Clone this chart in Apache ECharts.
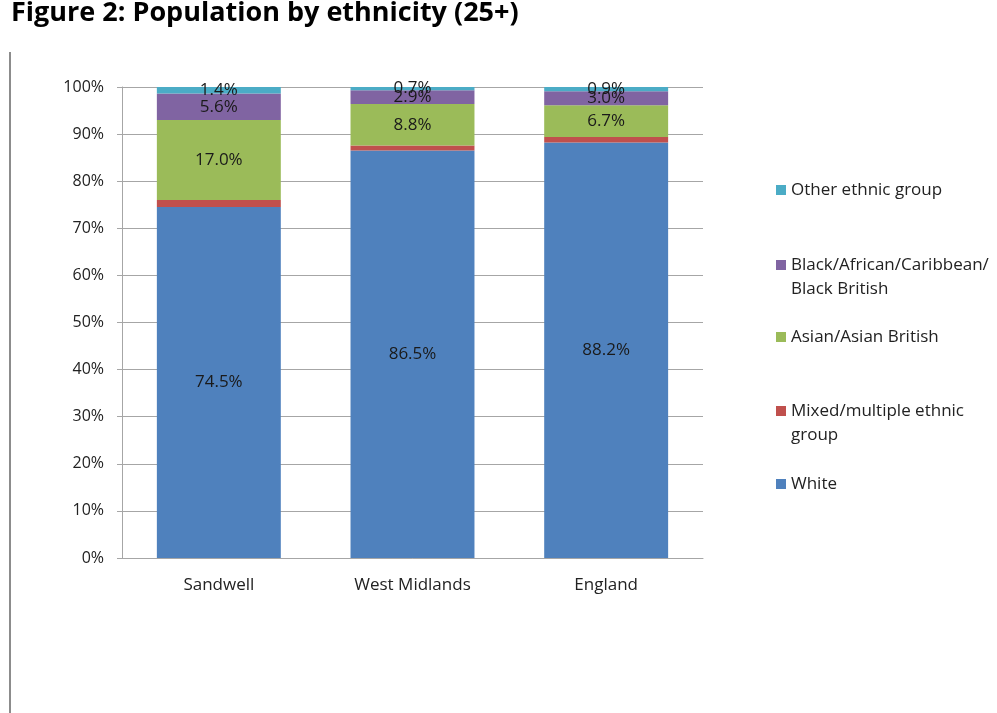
<!DOCTYPE html>
<html><head><meta charset="utf-8">
<script src="https://cdn.jsdelivr.net/npm/echarts@6/dist/echarts.min.js"></script>
<style>html,body{margin:0;padding:0;background:#fff}#c{width:997px;height:713px}</style>
</head><body><div id="c"></div>
<script>
const categories = ['Sandwell', 'West Midlands', 'England'];
const white = [74.5, 86.5, 88.2];
const mixed = [1.5, 1.1, 1.2];
const asian = [17.0, 8.8, 6.7];
const black = [5.6, 2.9, 3.0];
const other = [1.4, 0.7, 0.9];
const yTicks = [0, 10, 20, 30, 40, 50, 60, 70, 80, 90, 100];

const FONT = 'Open Sans';
const chart = echarts.init(document.getElementById('c'), null, {renderer: 'canvas'});

function mk(name, data, color, showLabel) {
  return {
    name, type: 'bar', stack: 'all', data, barWidth: '64%',
    itemStyle: {color},
    label: {show: showLabel, position: 'inside', formatter: p => p.value.toFixed(1) + '%',
      color: '#1a1a1a', fontFamily: FONT, fontSize: 17},
    emphasis: {disabled: true}
  };
}
const legendTops = [178, 229, 325, 375, 472];
const names = ['Other ethnic group', 'Black/African/Caribbean/Black British', 'Asian/Asian British', 'Mixed/multiple ethnic group', 'White'];
const legends = names.map((n, i) => ({
  data: [n], left: 776, top: legendTops[i], orient: 'vertical', padding: 0,
  itemWidth: 10, itemHeight: 10, itemGap: 0, icon: 'rect',
  selectedMode: false,
  formatter: nm => nm === 'Black/African/Caribbean/Black British' ? '\nBlack/African/Caribbean/\nBlack British'
    : nm === 'Mixed/multiple ethnic group' ? '\nMixed/multiple ethnic\ngroup' : nm,
  textStyle: {fontFamily: FONT, fontSize: 17, color: '#222', lineHeight: 24}
}));

chart.setOption({
  animation: false,
  title: {text: 'Figure 2: Population by ethnicity (25+)', left: 6, top: -5,
    textStyle: {fontFamily: FONT, fontWeight: 'bold', fontSize: 27, color: '#000'}},
  legend: legends,
  graphic: [{type: 'line', shape: {x1: 10, y1: 52, x2: 10, y2: 713}, style: {stroke: '#8c8c8c', lineWidth: 2}}],
  grid: {left: 122, right: 294, top: 87, bottom: 155},
  xAxis: {type: 'category', data: categories,
    axisLine: {lineStyle: {color: '#a6a6a6'}}, axisTick: {show: false},
    axisLabel: {fontFamily: FONT, fontSize: 17, color: '#222', margin: 19}},
  yAxis: {type: 'value', min: 0, max: 100, interval: 10,
    axisLine: {show: true, lineStyle: {color: '#a6a6a6'}},
    axisTick: {show: true, length: 5, lineStyle: {color: '#a6a6a6'}},
    splitLine: {lineStyle: {color: '#a6a6a6'}},
    axisLabel: {fontFamily: FONT, fontSize: 16, color: '#222', margin: 18,
      formatter: v => yTicks.includes(v) ? v + '%' : ''}},
  series: [
    mk('White', white, '#4F81BD', true),
    mk('Mixed/multiple ethnic group', mixed, '#C0504D', false),
    mk('Asian/Asian British', asian, '#9BBB59', true),
    mk('Black/African/Caribbean/Black British', black, '#8064A2', true),
    mk('Other ethnic group', other, '#4BACC6', true)
  ]
});
</script></body></html>
